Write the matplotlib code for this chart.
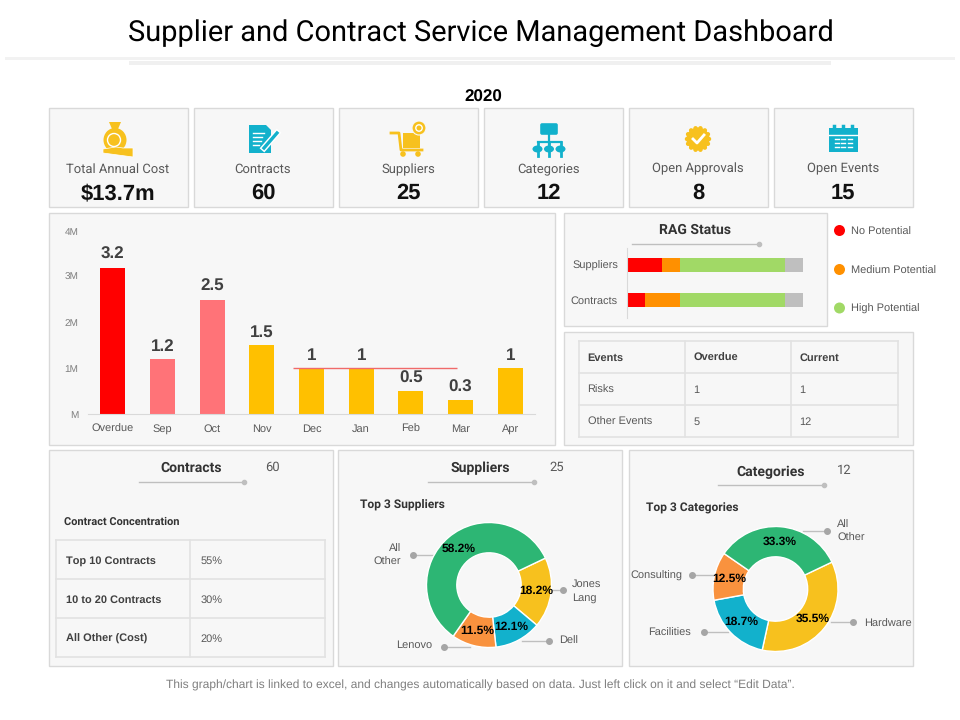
import math
import matplotlib
matplotlib.use("Agg")
import matplotlib.pyplot as plt
from matplotlib.patches import Rectangle, Circle, Polygon, FancyBboxPatch, Ellipse

# KPI cards
kpi_labels = ["Total Annual Cost", "Contracts", "Suppliers", "Categories", "Open Approvals", "Open Events"]
kpi_values = ["$13.7m", "60", "25", "12", "8", "15"]

# monthly bars
months = ["Overdue", "Sep", "Oct", "Nov", "Dec", "Jan", "Feb", "Mar", "Apr"]
month_values = [3.2, 1.2, 2.5, 1.5, 1, 1, 0.5, 0.3, 1]
month_colors = ["#FF0000", "#FF7378", "#FF7378", "#FFC000", "#FFC000", "#FFC000", "#FFC000", "#FFC000", "#FFC000"]
ytick_values = [0, 1, 2, 3, 4]
ytick_labels = ["M", "1M", "2M", "3M", "4M"]
target_value = 1

# RAG status
rag_rows = ["Contracts", "Suppliers"]
rag_none = [10, 20]
rag_medium = [20, 10]
rag_high = [60, 60]
rag_rest = [10, 10]
rag_legend = ["No Potential", "Medium Potential", "High Potential"]

# tables
events_table = [["Events", "Overdue", "Current"], ["Risks", "1", "1"], ["Other Events", "5", "12"]]
contract_table = [["Top 10 Contracts", "55%"], ["10 to 20 Contracts", "30%"], ["All Other (Cost)", "20%"]]

# donuts
supplier_values = [18.2, 12.1, 11.5, 58.2]
category_values = [35.5, 18.7, 12.5, 33.3]

GREEN = "#2DB674"
YELLOW = "#F7C11E"
BLUE = "#12B1CC"
ORANGE = "#F9923E"
CARD = "#F7F7F7"
EDGE = "#D9D9D9"
LINE = "#E2E2E2"
TEXT = "#595959"
HEAD = "#333333"
SANS = "Liberation Sans"
NARROW = "Roboto"

# hinting off so text widths scale evenly with the font size
plt.rcParams["text.hinting"] = "none"
plt.rcParams["text.hinting_factor"] = 1

fig = plt.figure(figsize=(9.6, 7.2), dpi=100, facecolor="white")

# full page axes in pixel units, everything that is not a chart goes here
page = fig.add_axes([0, 0, 1, 1], zorder=0)
page.set_xlim(0, 960)
page.set_ylim(720, 0)
page.axis("off")


def px_axes(x0, y0, x1, y1):
    ax = fig.add_axes([x0 / 960, 1 - y1 / 720, (x1 - x0) / 960, (y1 - y0) / 720], zorder=2)
    ax.patch.set_alpha(0)
    return ax


def card(x0, y0, x1, y1):
    page.add_patch(Rectangle((x0, y0), x1 - x0 - 1, y1 - y0 - 1, fc=CARD, ec=EDGE, lw=1))


def rule(x0, x1, y):
    page.plot([x0, x1], [y, y], color="#BFBFBF", lw=1)
    page.plot([x1], [y], "o", color="#BFBFBF", ms=3)


def grid_table(rows, xs, ys, pad, bold_rows=(), bold_first=False, size=8):
    for x in xs:
        page.plot([x, x], [ys[0], ys[-1]], color=LINE, lw=1.2)
    for y in ys:
        page.plot([xs[0], xs[-1]], [y, y], color=LINE, lw=1.2)
    for r, row in enumerate(rows):
        for c, cell in enumerate(row):
            heavy = r in bold_rows or (bold_first and c == 0)
            page.text(xs[c] + pad, (ys[r] + ys[r + 1]) / 2 + 4, cell, fontsize=size, family=SANS,
                      color="#404040" if heavy else TEXT, weight="bold" if heavy else "normal",
                      ha="left", va="baseline")


def icon_bag(cx, cy):
    bx = cx - 3
    page.add_patch(Polygon([(bx - 6, cy - 17), (bx + 6, cy - 17), (bx + 3, cy - 10), (bx - 3, cy - 10)], fc=YELLOW))
    page.add_patch(Ellipse((bx, cy + 1), 23, 24, fc=YELLOW))
    page.add_patch(Circle((bx - 1, cy + 1), 6.5, fc="none", ec="white", lw=1))
    page.add_patch(Polygon([(cx - 15, cy + 10), (cx - 2, cy + 8), (cx + 5, cy + 9), (cx + 15, cy + 9),
                            (cx + 15, cy + 18), (cx - 15, cy + 14)], fc=YELLOW, ec="white", lw=0.5))


def icon_doc(cx, cy):
    page.add_patch(Polygon([(cx - 14, cy - 14), (cx + 3, cy - 14), (cx + 8, cy - 9), (cx + 8, cy + 14), (cx - 14, cy + 14)], fc=BLUE))
    for i, w in enumerate([11, 9, 8, 6]):
        page.plot([cx - 10, cx - 10 + w], [cy - 6 + i * 4, cy - 6 + i * 4], color="white", lw=1)
    page.plot([cx + 1, cx + 14], [cy + 9, cy - 6], color="white", lw=4.5)
    page.plot([cx + 1, cx + 14], [cy + 9, cy - 6], color=BLUE, lw=2.4)


def icon_cart(cx, cy):
    page.plot([cx - 17, cx - 9, cx - 7, cx + 14], [cy - 6, cy - 6, cy + 11, cy + 11], color=YELLOW, lw=2)
    page.add_patch(Rectangle((cx - 5, cy - 6), 17, 15, fc=YELLOW))
    page.add_patch(Circle((cx - 5, cy + 15), 2.8, fc=YELLOW))
    page.add_patch(Circle((cx + 10, cy + 15), 2.8, fc=YELLOW))
    page.add_patch(Circle((cx + 11, cy - 11), 7, fc=YELLOW, ec=CARD, lw=0.8))
    page.add_patch(Circle((cx + 11, cy - 11), 3.2, fc="none", ec="white", lw=1))


def icon_tree(cx, cy):
    page.add_patch(FancyBboxPatch((cx - 7, cy - 14), 14, 8, boxstyle="round,pad=1.8", fc=BLUE, ec="none"))
    page.plot([cx, cx], [cy - 4, cy + 10], color=BLUE, lw=1.6)
    page.plot([cx - 11.5, cx + 11.5], [cy + 3, cy + 3], color=BLUE, lw=1.6)
    for dx in (-11.5, 0, 11.5):
        page.add_patch(Ellipse((cx + dx, cy + 10), 10, 7, fc=BLUE))
        page.plot([cx + dx, cx + dx], [cy + 3, cy + 17], color=BLUE, lw=2)


def icon_badge(cx, cy):
    page.add_patch(Circle((cx, cy), 11.5, fc=YELLOW))
    for k in range(14):
        a = 2 * math.pi * k / 14
        page.add_patch(Circle((cx + 11 * math.cos(a), cy + 11 * math.sin(a)), 2.2, fc=YELLOW))
    page.plot([cx - 5, cx - 1, cx + 6], [cy, cy + 4, cy - 4], color="white", lw=2)


def icon_calendar(cx, cy):
    page.add_patch(Rectangle((cx - 14.5, cy - 11), 29, 24, fc=BLUE))
    page.plot([cx - 14.5, cx + 14.5], [cy - 4, cy - 4], color="white", lw=1)
    for dx in (-9, 0, 9):
        page.plot([cx + dx, cx + dx], [cy - 13, cy - 8], color=BLUE, lw=2.5)
    for dy in (0, 4, 8):
        for dx in (-6.5, 0, 6.5):
            page.plot([cx + dx - 2, cx + dx + 2], [cy + dy, cy + dy], color="white", lw=1)


# header
page.text(480.5, 33.5, "Supplier and Contract Service Management Dashboard", fontsize=20.55, family=NARROW,
          color="black", ha="center", va="center")
page.add_patch(Rectangle((5, 57), 950, 3, fc="#F2F2F2", ec="none"))
page.add_patch(Rectangle((129, 60.5), 702, 4, fc="#F0F0F0", ec="none"))
page.text(483, 97, "2020", fontsize=12.5, family=SANS, weight="bold", color="black", ha="center", va="center")

# KPI row
icons = [icon_bag, icon_doc, icon_cart, icon_tree, icon_badge, icon_calendar]
kpi_centers = [118, 263, 408, 549, 698, 843]
kpi_label_y = [169.5, 169.5, 169.5, 169.5, 168.5, 168.5]
for i, label in enumerate(kpi_labels):
    x0 = 49 + i * 145
    card(x0, 108, x0 + 140, 208)
    icons[i](kpi_centers[i], 139)
    page.text(kpi_centers[i], kpi_label_y[i], label, fontsize=9, family=NARROW, color=TEXT, ha="center", va="center")
    page.text(kpi_centers[i], 193.5, kpi_values[i], fontsize=15.5, family=SANS, weight="bold", color="#111111",
              ha="center", va="center")

# panels
card(49, 213, 556, 446)
card(564, 213, 828, 327)
card(564, 332, 914, 446)
card(49, 450, 334, 667)
card(338, 450, 623, 667)
card(629, 450, 914, 667)

# monthly bar chart
ax = px_axes(88, 231, 535, 414)
positions = list(range(len(months)))
ax.bar(positions, month_values, width=0.5, color=month_colors)
ax.hlines(target_value, 3.63, 6.92, color="#F06A6A", lw=1, zorder=3)
ax.set_xlim(-0.5, len(months) - 0.5)
ax.set_ylim(0, 4)
ax.set_xticks(positions, months, fontsize=8, family=SANS, color=TEXT)
ax.set_yticks(ytick_values, ytick_labels, fontsize=7.5, family=SANS, color="#7F7F7F")
ax.tick_params(length=0)
ax.tick_params(axis="y", pad=7)
ax.tick_params(axis="x", pad=12.8)
for t in ax.get_xticklabels():
    t.set_verticalalignment("baseline")
for side in ("top", "right", "left"):
    ax.spines[side].set_visible(False)
ax.spines["bottom"].set_color(EDGE)
for p, v in zip(positions, month_values):
    ax.annotate(f"{v:g}", (p, v), xytext=(0, 3.5), textcoords="offset points", ha="center", va="bottom",
                fontsize=12.5, family=SANS, weight="bold", color="#404040")

# RAG status
page.text(695, 230, "RAG Status", fontsize=10, family=NARROW, weight="bold", color=HEAD, ha="center", va="center")
rule(632, 759, 244)
rag = px_axes(627, 247.5, 803, 317.5)
left = [0, 0]
for seg, color in zip([rag_none, rag_medium, rag_high, rag_rest], ["#FF0000", "#FF9000", "#A1D966", "#BFBFBF"]):
    rag.barh(rag_rows, seg, left=left, height=0.4, color=color)
    left = [a + b for a, b in zip(left, seg)]
rag.set_xlim(0, 100)
rag.set_ylim(-0.5, 1.5)
rag.set_xticks([])
rag.tick_params(length=0, pad=6.5, labelsize=8, labelcolor=TEXT)
for t in rag.get_yticklabels():
    t.set_family(SANS)
for side in ("top", "right", "bottom"):
    rag.spines[side].set_visible(False)
rag.spines["left"].set_color(EDGE)
for label, color, y in zip(rag_legend, ["#FF0000", "#FF9000", "#A1D966"], [230.5, 269.5, 308]):
    page.add_patch(Circle((839.5, y), 5.5, fc=color, ec="none"))
    page.text(851, y + 4, label, fontsize=7.8, family=SANS, color=TEXT, ha="left", va="baseline")

# events table
grid_table(events_table, [579, 685, 791, 898], [341, 373, 405, 437], 8.5, bold_rows=(0,))

# contracts panel
page.text(191, 468, "Contracts", fontsize=10.3, family=NARROW, weight="bold", color=HEAD, ha="center", va="center")
page.text(272, 467, "60", fontsize=9.5, family=NARROW, color=TEXT, ha="center", va="center")
rule(139, 244, 481.5)
page.text(64, 522, "Contract Concentration", fontsize=7.7, family=NARROW, weight="bold", color=HEAD, ha="left", va="center")
grid_table(contract_table, [56, 190, 325], [540, 579, 618, 657], 10.5, bold_first=True, size=8.2)

# suppliers panel
page.text(480, 468, "Suppliers", fontsize=10.4, family=NARROW, weight="bold", color=HEAD, ha="center", va="center")
page.text(557, 467, "25", fontsize=9.5, family=NARROW, color=TEXT, ha="center", va="center")
rule(428, 534, 481.5)
page.text(360, 504, "Top 3 Suppliers", fontsize=8.7, family=NARROW, weight="bold", color=HEAD, ha="left", va="center")


def donut(values, colors, cx, cy, r, inner):
    ax = px_axes(cx - r, cy - r, cx + r, cy + r)
    ax.pie(values, colors=colors, startangle=25.5, counterclock=False, radius=1,
           wedgeprops=dict(width=1 - inner, edgecolor="white", linewidth=1),
           autopct="%.1f%%", pctdistance=0.76,
           textprops=dict(fontsize=8.3, family=SANS, weight="bold", color="black"))
    ax.set_xlim(-1, 1)
    ax.set_ylim(-1, 1)


def leader(x0, y0, x1, y1):
    page.plot([x0, x1], [y0, y1], color="#BFBFBF", lw=1)
    page.plot([x1], [y1], "o", color="#A6A6A6", ms=4)


donut(supplier_values, [YELLOW, BLUE, ORANGE, GREEN], 489, 585, 62.5, 0.515)
leader(433, 555, 412.5, 555)
leader(552, 590, 562.5, 590)
leader(522, 640.5, 549, 640.5)
leader(470, 646.5, 444, 646.5)
page.text(401, 555.5, "All\nOther", fontsize=8, family=SANS, color=TEXT, ha="right", va="center", linespacing=1.45)
page.text(572, 590.5, "Jones\nLang", fontsize=8, family=SANS, color=TEXT, ha="left", va="center", linespacing=1.45)
page.text(559, 641, "Dell", fontsize=8, family=SANS, color=TEXT, ha="left", va="center")
page.text(396.5, 645.5, "Lenovo", fontsize=8, family=SANS, color=TEXT, ha="left", va="center")

# categories panel
page.text(771, 472, "Categories", fontsize=10.3, family=NARROW, weight="bold", color=HEAD, ha="center", va="center")
page.text(844, 470, "12", fontsize=9.5, family=NARROW, color=TEXT, ha="center", va="center")
rule(718, 824, 485)
page.text(646, 508, "Top 3 Categories", fontsize=8.7, family=NARROW, weight="bold", color=HEAD, ha="left", va="center")
donut(category_values, [YELLOW, BLUE, ORANGE, GREEN], 775.5, 589, 62.5, 0.515)
leader(803, 531, 827, 531)
leader(831, 622, 853, 622)
leader(715, 575, 692, 575)
leader(728, 632, 704, 632)
page.text(837, 531, "All\nOther", fontsize=8, family=SANS, color=TEXT, ha="left", va="center", linespacing=1.45)
page.text(864, 624, "Hardware", fontsize=7.8, family=SANS, color=TEXT, ha="left", va="center")
page.text(682, 575.5, "Consulting", fontsize=7.8, family=SANS, color=TEXT, ha="right", va="center")
page.text(691, 633.5, "Facilities", fontsize=7.8, family=SANS, color=TEXT, ha="right", va="center")

# footer
page.text(480, 685.5, "This graph/chart is linked to excel, and changes automatically based on data. Just left click on it and select \u201cEdit Data\u201d.",
          fontsize=8.65, family=SANS, color="#7F7F7F", ha="center", va="center")

fig.savefig("out.png", dpi=100)
